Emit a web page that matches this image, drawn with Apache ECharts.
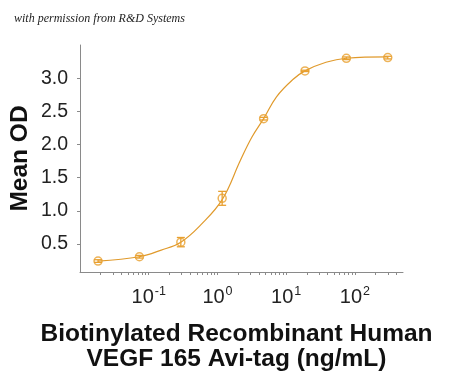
<!DOCTYPE html>
<html>
<head>
<meta charset="utf-8">
<script src="https://cdn.jsdelivr.net/npm/echarts@6/dist/echarts.min.js"></script>
<style>
html,body{margin:0;padding:0;background:#fff;}
#chart{width:450px;height:377px;}
</style>
</head>
<body>
<div id="chart"></div>
<script>
// Concentrations (ng/mL), 4-fold dilution series
const concentrations = [0.0183, 0.0732, 0.293, 1.17, 4.69, 18.75, 75, 300];
// Mean OD values
const meanOD = [0.245, 0.31, 0.53, 1.19, 2.39, 3.11, 3.30, 3.31];
// Error (± SD)
const errOD = [0.02, 0.02, 0.07, 0.105, 0.02, 0.01, 0.02, 0.02];
// Fitted curve points: [x, y]
const fitX = [0.0183, 0.0732, 0.152, 0.293, 0.571, 1.17, 2.15, 3.16, 4.69, 7.22, 12.5, 18.75, 37.9, 75, 300];
const fitY = [0.245, 0.31, 0.41, 0.53, 0.79, 1.17, 1.76, 2.11, 2.39, 2.72, 2.98, 3.11, 3.24, 3.30, 3.32];
// Axis ticks
const xMinorTicks = [0.02,0.03,0.04,0.05,0.06,0.07,0.08,0.09,0.1,0.2,0.3,0.4,0.5,0.6,0.7,0.8,0.9,1,2,3,4,5,6,7,8,9,10,20,30,40,50,60,70,80,90,100,200,300,400];
const xLabelTicks = [0.1, 1, 10, 100];
const xLabelExp = ['-1', '0', '1', '2'];
const yTicks = [0.5, 1.0, 1.5, 2.0, 2.5, 3.0];

const orange = '#E8A030';
const chart = echarts.init(document.getElementById('chart'), null, {renderer: 'canvas'});

const option = {
  animation: false,
  backgroundColor: '#fff',
  title: {
    text: 'with permission from R&D Systems',
    left: 9, top: 8,
    textStyle: {fontFamily: 'Liberation Serif', fontStyle: 'italic', fontWeight: 'normal', fontSize: 12, color: '#222'}
  },
  grid: {left: 80, top: 45, right: 47, bottom: 105, containLabel: false, outerBoundsMode: 'none'},
  xAxis: {
    type: 'log', logBase: 10, min: 0.01, max: 500,
    name: 'Biotinylated Recombinant Human\nVEGF 165 Avi-tag (ng/mL)',
    nameLocation: 'middle', nameGap: 50,
    nameTextStyle: {fontFamily: 'Liberation Sans', fontWeight: 'bold', fontSize: 24.5, lineHeight: 25, color: '#111', padding: [0, 10, 0, 0]},
    axisLine: {show: true, lineStyle: {color: '#8a8a8a', width: 1}},
    axisTick: {show: true, length: 3, customValues: xMinorTicks, lineStyle: {color: '#8a8a8a'}},
    minorTick: {show: false},
    splitLine: {show: false},
    axisLabel: {
      customValues: xLabelTicks, margin: 13,
      formatter: function (v) {
        const i = xLabelTicks.findIndex(t => Math.abs(Math.log10(t) - Math.log10(v)) < 1e-6);
        return '{b|10}{s|' + (i >= 0 ? xLabelExp[i] : '') + '}';
      },
      rich: {
        b: {fontFamily: 'Liberation Sans', fontSize: 20, color: '#222', lineHeight: 24},
        s: {fontFamily: 'Liberation Sans', fontSize: 12.5, color: '#222', verticalAlign: 'top', lineHeight: 14, padding: [0, 0, 8, 1]}
      }
    }
  },
  yAxis: {
    type: 'value', min: 0.08, max: 3.5,
    name: 'Mean OD', nameLocation: 'middle', nameGap: 47, nameMoveOverlap: false,
    nameTextStyle: {fontFamily: 'Liberation Sans', fontWeight: 'bold', fontSize: 24.5, color: '#111'},
    axisLine: {show: true, lineStyle: {color: '#8a8a8a', width: 1}},
    axisTick: {show: true, length: 3, customValues: yTicks, lineStyle: {color: '#8a8a8a'}},
    splitLine: {show: false},
    axisLabel: {
      customValues: yTicks, margin: 12,
      fontFamily: 'Liberation Sans', fontSize: 19.5, color: '#222',
      formatter: v => v.toFixed(1)
    }
  },
  series: [
    {
      type: 'line',
      data: fitX.map((x, i) => [x, fitY[i]]),
      smooth: 0.4,
      showSymbol: false,
      lineStyle: {color: '#E09A2C', width: 1.2},
      z: 2
    },
    {
      type: 'custom',
      data: concentrations.map((x, i) => [x, meanOD[i], errOD[i]]),
      renderItem: function (params, api) {
        const x = api.value(0), y = api.value(1), e = api.value(2);
        const top = api.coord([x, y + e]);
        const bot = api.coord([x, y - e]);
        const hw = 4;
        const style = {stroke: orange, lineWidth: 1.3, fill: null};
        return {
          type: 'group',
          children: [
            {type: 'line', shape: {x1: top[0], y1: top[1], x2: bot[0], y2: bot[1]}, style: style},
            {type: 'line', shape: {x1: top[0] - hw, y1: top[1], x2: top[0] + hw, y2: top[1]}, style: style},
            {type: 'line', shape: {x1: bot[0] - hw, y1: bot[1], x2: bot[0] + hw, y2: bot[1]}, style: style}
          ]
        };
      },
      z: 3
    },
    {
      type: 'scatter',
      data: concentrations.map((x, i) => [x, meanOD[i]]),
      symbol: 'circle',
      symbolSize: 8,
      itemStyle: {color: 'rgba(255,255,255,0)', borderColor: orange, borderWidth: 1.5},
      z: 4
    }
  ]
};
chart.setOption(option);
</script>
</body>
</html>
